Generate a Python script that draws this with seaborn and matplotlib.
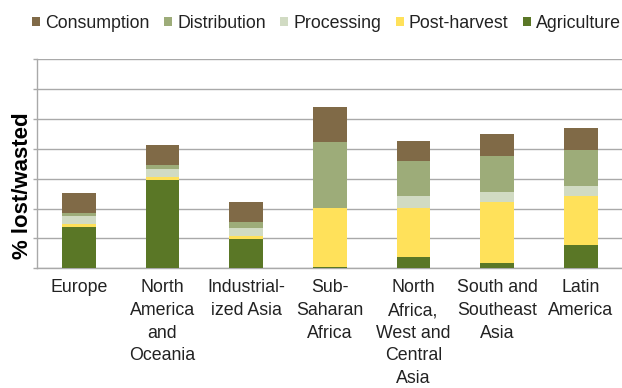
import numpy as np
import pandas as pd
import matplotlib
matplotlib.use("Agg")
import matplotlib.pyplot as plt
from matplotlib.patches import Patch
import seaborn as sns

# Food loss and waste by stage of the supply chain, per region (% lost/wasted)
regions = [
    "Europe",
    "North\nAmerica\nand\nOceania",
    "Industrial-\nized Asia",
    "Sub-\nSaharan\nAfrica",
    "North\nAfrica,\nWest and\nCentral\nAsia",
    "South and\nSoutheast\nAsia",
    "Latin\nAmerica",
]
agriculture = [6.95, 14.8, 4.9, 0.3, 1.95, 0.95, 3.95]
post_harvest = [0.55, 0.5, 0.55, 9.75, 8.1, 10.1, 8.1]
processing = [1.3, 1.33, 1.28, 0.0, 2.0, 1.78, 1.78]
distribution = [0.4, 0.6, 1.0, 11.15, 5.85, 6.05, 6.0]
consumption = [3.35, 3.45, 3.33, 5.85, 3.5, 3.55, 3.6]

stages = ["Agriculture", "Post-harvest", "Processing", "Distribution", "Consumption"]
colors = {
    "Agriculture": "#5a7726",
    "Post-harvest": "#ffe15a",
    "Processing": "#d1dbc3",
    "Distribution": "#9dac79",
    "Consumption": "#806a47",
}

df = pd.DataFrame({
    "region": regions,
    "Agriculture": agriculture,
    "Post-harvest": post_harvest,
    "Processing": processing,
    "Distribution": distribution,
    "Consumption": consumption,
})
cum = df[stages].cumsum(axis=1)

sns.set_style("white")
plt.rcParams["font.family"] = ["Liberation Sans", "DejaVu Sans"]
text_color = "#222222"
grid_color = "#a9a9a9"

W, H = 622, 388
fig = plt.figure(figsize=(W / 100, H / 100), dpi=100)
ax = fig.add_axes([37 / W, 1 - 268.3 / H, (622.6 - 37) / W, (268.3 - 59.3) / H])

# stacked bars: draw cumulative totals from the top stage down
for stage in reversed(stages):
    sns.barplot(x=df["region"], y=cum[stage], order=regions, color=colors[stage],
                saturation=1, width=0.4, linewidth=0, ax=ax, zorder=3)

ax.set_xlim(-0.5, len(regions) - 0.5)
ax.set_ylim(0, 35)
ax.set_xlabel("")
ax.set_ylabel("")

ax.set_yticks(np.arange(0, 36, 5))
ax.set_yticklabels([])
ax.yaxis.grid(True, color=grid_color, linewidth=1.0, zorder=0)
ax.xaxis.grid(False)
ax.set_axisbelow(True)

ax.set_xticks(range(len(regions)))
ax.set_xticklabels(regions)
ax.set_xticks(np.arange(-0.5, len(regions) - 0.5, 1.0), minor=True)
ax.tick_params(axis="x", which="major", length=0, pad=8, labelsize=12.8, labelcolor=text_color)
ax.tick_params(axis="x", which="minor", length=4, width=1, color=grid_color, direction="out")
ax.tick_params(axis="y", which="major", length=3, width=1, color=grid_color, direction="out", left=True)
for lbl in ax.get_xticklabels():
    lbl.set_linespacing(1.43)

for side in ["top", "right"]:
    ax.spines[side].set_visible(False)
for side in ["left", "bottom"]:
    ax.spines[side].set_color(grid_color)
    ax.spines[side].set_linewidth(1.0)

fig.text(23 / W, 1 - 186 / H, "% lost/wasted", rotation=90, fontsize=16,
         fontweight="bold", ha="center", va="center", color="black")

legend_order = ["Consumption", "Distribution", "Processing", "Post-harvest", "Agriculture"]
handles = [Patch(facecolor=colors[s], edgecolor="none") for s in legend_order]
fig.legend(handles, legend_order, loc="upper left", bbox_to_anchor=(32 / W, 1 - 15 / H),
           ncol=5, frameon=False, fontsize=12.8, handlelength=0.45, handleheight=0.45,
           handletextpad=0.3, columnspacing=0.8, borderpad=0, borderaxespad=0,
           labelcolor=text_color)

fig.savefig("out.png", dpi=100)
